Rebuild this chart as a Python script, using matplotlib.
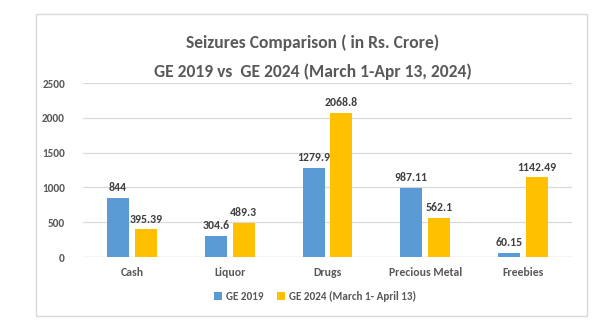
import matplotlib
matplotlib.use("Agg")
import matplotlib.pyplot as plt
import numpy as np
from matplotlib.patches import Rectangle
import logging
logging.getLogger('matplotlib.font_manager').setLevel(logging.ERROR)

categories = ["Cash", "Liquor", "Drugs", "Precious Metal", "Freebies"]
ge2019 = [844, 304.6, 1279.9, 987.11, 60.15]
ge2024 = [395.39, 489.3, 2068.8, 562.1, 1142.49]
labels2019 = ["844", "304.6", "1279.9", "987.11", "60.15"]
labels2024 = ["395.39", "489.3", "2068.8", "562.1", "1142.49"]
series_names = ["GE 2019", "GE 2024 (March 1- April 13)"]
yticks = [0, 500, 1000, 1500, 2000, 2500]

plt.rcParams['font.family'] = ['Carlito', 'Lato', 'DejaVu Sans']
TXT = "#595959"
LBL = "#404040"
FW = "heavy"

W, H = 610, 335
fig = plt.figure(figsize=(W/100, H/100), dpi=100)
fig.patch.set_facecolor("white")

# outer border box
fig.add_artist(Rectangle((36/W, 1-316/H), (587-36)/W, (316-14)/H,
                         transform=fig.transFigure, fill=False,
                         edgecolor="#D9D9D9", linewidth=1.0))

ax = fig.add_axes([83/W, 1-257/H, (572-83)/W, (257-83)/H])
x = np.arange(len(categories))
bw = 0.225
off = 0.143
b1 = ax.bar(x - off, ge2019, bw, color="#5B9BD5", label=series_names[0], zorder=3)
b2 = ax.bar(x + off, ge2024, bw, color="#FFC000", label=series_names[1], zorder=3)

for xi, v, s in zip(x - off, ge2019, labels2019):
    ax.text(xi, v + 70, s, ha="center", va="bottom", fontsize=8.5,
            fontweight=FW, color=LBL)
for xi, v, s in zip(x + off, ge2024, labels2024):
    ax.text(xi, v + 70, s, ha="center", va="bottom", fontsize=8.5,
            fontweight=FW, color=LBL)

ax.set_xlim(-0.5, len(categories) - 0.5)
ax.set_ylim(0, 2500)
ax.set_yticks(yticks)
ax.set_yticklabels([str(t) for t in yticks], fontsize=8, fontweight=FW, color=TXT)
ax.set_xticks(x)
ax.set_xticklabels(categories, fontsize=8.5, fontweight=FW, color=TXT)
ax.tick_params(axis="both", length=0)
ax.tick_params(axis="y", pad=13)
ax.tick_params(axis="x", pad=7)
ax.grid(axis="y", color="#D9D9D9", linewidth=0.9, zorder=0)
for sp in ax.spines.values():
    sp.set_visible(False)
ax.axhline(0, color="#D9D9D9", linewidth=0.9, zorder=2)

fig.text(313/W, 1-43/H, "Seizures Comparison ( in Rs. Crore)", ha="center", va="center",
         fontsize=12.6, fontweight=FW, color=TXT)
fig.text(313/W, 1-72/H, "GE 2019 vs  GE 2024 (March 1-Apr 13, 2024)", ha="center", va="center",
         fontsize=12.6, fontweight=FW, color=TXT)

leg = fig.legend(handles=[b1, b2], labels=series_names, loc="center",
                 bbox_to_anchor=(315/W, 1-296/H), ncol=2, frameon=False,
                 fontsize=8, handlelength=0.7, handleheight=0.7,
                 handletextpad=0.3, columnspacing=1.3)
for t in leg.get_texts():
    t.set_color(TXT)
    t.set_fontweight(FW)

fig.savefig("out.png", dpi=100, facecolor="white")
